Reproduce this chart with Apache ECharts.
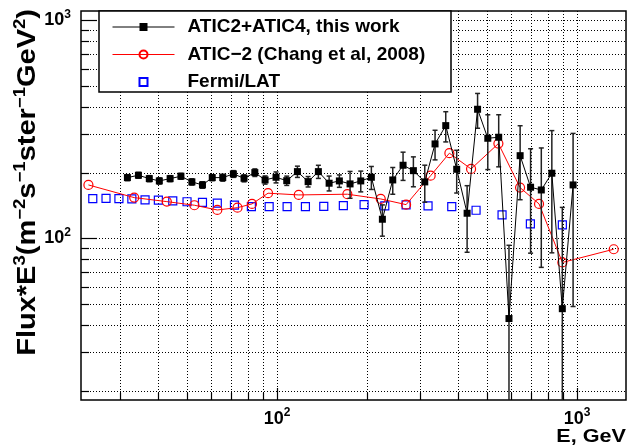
<!DOCTYPE html>
<html><head><meta charset="utf-8">
<script src="https://cdn.jsdelivr.net/npm/echarts@6/dist/echarts.min.js"></script>
<style>html,body{margin:0;padding:0;background:#fff}#c{width:633px;height:447px}</style>
</head><body><div id="c"></div>
<script>
// ---- data ----
const aticX = [31.7, 34.5, 37.5, 40.5, 44.0, 47.8, 52.0, 56.4, 60.8, 65.9, 71.5, 77.6, 84.3, 91.2, 99.2, 107.7, 116.9, 126.9, 137.3, 149.1, 161.3, 175.1, 190.1, 206.2, 224.4, 243, 263, 284.7, 310.7, 336.2, 365, 397, 430, 466, 504, 548, 593, 646, 700, 760, 824, 893, 970];
const aticY = [189.7, 194.5, 187.7, 183.2, 187.7, 192.5, 181.3, 175.6, 189.7, 189.7, 197.2, 188.4, 200, 185.1, 190.4, 183.7, 202.1, 181.8, 202.1, 178.8, 183.2, 177.5, 183.2, 190.4, 122.2, 185.1, 216.2, 204.2, 181.3, 270.8, 328.6, 207.2, 130.2, 390.6, 287.5, 290.6, 42.8, 239.2, 171.4, 166.5, 198.7, 47.5, 175.6];
const aticErr = [6, 6, 6, 6, 6, 6, 6, 6, 6, 7, 7, 7, 8, 8, 11, 9, 12, 10, 14, 14, 12, 25, 20, 23, 20, 26, 32, 32, 35, 42, 52, 46, 44, 71, 81, 78, 50, 89, 86, 93, 113, 91, 127];
const chX = [23.5, 33.4, 42.9, 53.0, 63.2, 73.8, 82.5, 93.3, 118.1, 171.5, 221.6, 269.2, 325, 375.3, 443.3, 546.7, 645.7, 746.9, 893.3, 1325];
const chY = [175.6, 153.6, 147.2, 141.7, 134.8, 138.1, 143.7, 160.9, 158, 159.2, 151.4, 142.6, 193.7, 245.5, 207.9, 271.8, 170.7, 143.7, 77.4, 89.0];
const fermiX = [24.3, 26.9, 29.7, 32.8, 36.3, 40.2, 44.9, 50.1, 56.4, 63.2, 72.1, 82.1, 94.1, 108, 124.3, 143.1, 166.3, 195, 228.6, 269.2, 318.6, 382.2, 460.6, 562.3, 698.9, 893.3];
const fermiY = [152, 152.5, 152, 151.5, 150, 149.5, 148.5, 147, 146, 145, 142, 139.6, 139.6, 139.6, 139.6, 140, 141, 142.6, 140.6, 142.2, 140.8, 139.6, 134.4, 127.9, 116.3, 115.2];
const seriesNames = ['ATIC2+ATIC4, this work', 'ATIC\u22122 (Chang et al, 2008)', 'Fermi/LAT'];
const xTicks = [30, 40, 50, 60, 70, 80, 90, 100, 200, 300, 400, 500, 600, 700, 800, 900, 1000];
const yTicks = [20, 30, 40, 50, 60, 70, 80, 90, 100, 200, 300, 400, 500, 600, 700, 800, 900, 1000];
const xMajor = [100, 1000];
const yMajor = [100, 1000];
const X_MIN = 22.2, X_MAX = 1456, Y_MIN = 18.1, Y_MAX = 1103;
const xTitle = 'E, GeV';

const FONT = '"Liberation Sans", Arial, Helvetica, sans-serif';
function isPow10(v) { const l = Math.log10(v); return Math.abs(l - Math.round(l)) < 1e-6; }
function powLabel(v) { return isPow10(v) ? '{a|10}{b|' + Math.round(Math.log10(v)) + '}' : ''; }
const labelRich = {
  a: { fontFamily: FONT, fontWeight: 'bold', fontSize: 18, color: '#000' },
  b: { fontFamily: FONT, fontWeight: 'bold', fontSize: 12, color: '#000', padding: [0, 0, 12, 0] }
};

function gridRender(isX) {
  return function (params, api) {
    const cs = params.coordSys;
    const v = api.value(isX ? 0 : 1);
    const major = (isX ? xMajor : yMajor).indexOf(v) >= 0;
    const p = api.coord([api.value(0), api.value(1)]);
    const children = [];
    if (isX) {
      const x = Math.round(p[0]) + 0.5;
      children.push({ type: 'line', shape: { x1: x, y1: cs.y, x2: x, y2: cs.y + cs.height }, style: { stroke: '#000', lineWidth: 1, lineDash: [1, 2] } });
      children.push({ type: 'line', shape: { x1: x, y1: cs.y + cs.height, x2: x, y2: cs.y + cs.height - (major ? 12 : 7) }, style: { stroke: '#000', lineWidth: 1.2 } });
    } else {
      const y = Math.round(p[1]) + 0.5;
      children.push({ type: 'line', shape: { x1: cs.x, y1: y, x2: cs.x + cs.width, y2: y }, style: { stroke: '#000', lineWidth: 1, lineDash: [1, 2] } });
      children.push({ type: 'line', shape: { x1: cs.x, y1: y, x2: cs.x + (major ? 16 : 8), y2: y }, style: { stroke: '#000', lineWidth: 1.2 } });
    }
    return { type: 'group', children: children };
  };
}

function errRender(params, api) {
  const cs = params.coordSys;
  const x = api.value(0), y = api.value(1), e = api.value(2);
  const hi = api.coord([x, y + e]);
  const loV = y - e;
  const lo = loV > Y_MIN ? api.coord([x, loV]) : [hi[0], cs.y + cs.height];
  const st = { stroke: '#222', lineWidth: 1.5 };
  const ch = [
    { type: 'line', shape: { x1: hi[0], y1: hi[1], x2: lo[0], y2: lo[1] }, style: st },
    { type: 'line', shape: { x1: hi[0] - 2.5, y1: hi[1], x2: hi[0] + 2.5, y2: hi[1] }, style: st }
  ];
  if (loV > Y_MIN) ch.push({ type: 'line', shape: { x1: lo[0] - 2.5, y1: lo[1], x2: lo[0] + 2.5, y2: lo[1] }, style: st });
  return { type: 'group', children: ch };
}

const chart = echarts.init(document.getElementById('c'), null, { renderer: 'canvas' });
chart.setOption({
  animation: false,
  backgroundColor: '#fff',
  grid: { left: 81, top: 11, right: 7, bottom: 47, show: true, borderColor: '#000', borderWidth: 1.5, backgroundColor: 'transparent', outerBoundsMode: 'none', containLabel: false },
  xAxis: {
    type: 'log', logBase: 10, min: X_MIN, max: X_MAX,
    axisLine: { show: false }, axisTick: { show: false }, splitLine: { show: false }, minorTick: { show: false },
    axisLabel: { show: true, margin: 7, formatter: powLabel, rich: labelRich, showMinLabel: false, showMaxLabel: false, hideOverlap: false }
  },
  yAxis: {
    type: 'log', logBase: 10, min: Y_MIN, max: Y_MAX,
    axisLine: { show: false }, axisTick: { show: false }, splitLine: { show: false }, minorTick: { show: false },
    axisLabel: { show: true, margin: 10, formatter: powLabel, rich: labelRich, showMinLabel: false, showMaxLabel: false, hideOverlap: false }
  },
  legend: {
    show: true, orient: 'vertical', left: 112, top: 17, itemWidth: 62, itemHeight: 10, itemGap: 7.5, padding: 0,
    selectedMode: false, z: 60, backgroundColor: 'transparent', borderWidth: 0,
    textStyle: { fontFamily: FONT, fontWeight: 'bold', fontSize: 19, color: '#000', lineHeight: 20, padding: [0, 0, 0, 8] },
    lineStyle: { width: 1 },
    data: [
      { name: seriesNames[0] },
      { name: seriesNames[1] },
      { name: seriesNames[2], lineStyle: { opacity: 0, width: 0 } }
    ]
  },
  graphic: [
    { type: 'rect', z: 50, silent: true, shape: { x: 99, y: 11, width: 352, height: 81 }, style: { fill: '#fff', stroke: '#000', lineWidth: 1.5 } },
    { type: 'text', z: 50, silent: true, x: 626, y: 446, scaleX: 1.2,
      style: { text: xTitle, align: 'right', verticalAlign: 'bottom', fontFamily: FONT, fontWeight: 'bold', fontSize: 18, fill: '#000' } },
    { type: 'text', z: 50, silent: true, x: 28, y: 9, rotation: Math.PI / 2, scaleX: 1.16,
      style: {
        text: '{a|Flux*E}{s|3}{a|(m}{s|\u22122}{a|s}{s|\u22121}{a|ster}{s|\u22121}{a|GeV}{s|2}{a|)}',
        align: 'right', verticalAlign: 'middle', fill: '#000', fontFamily: FONT, fontWeight: 'bold', fontSize: 25,
        rich: {
          a: { fontFamily: FONT, fontWeight: 'bold', fontSize: 25, fill: '#000' },
          s: { fontFamily: FONT, fontWeight: 'bold', fontSize: 16, fill: '#000', padding: [0, 0, 14, 0] }
        }
      } }
  ],
  series: [
    { type: 'custom', name: 'gx', silent: true, z: 1, clip: false, renderItem: gridRender(true), data: xTicks.map(v => [v, 100]) },
    { type: 'custom', name: 'gy', silent: true, z: 1, clip: false, renderItem: gridRender(false), data: yTicks.map(v => [100, v]) },
    { type: 'line', name: seriesNames[2], z: 3, symbol: 'rect', symbolSize: 8, showAllSymbol: true,
      lineStyle: { color: '#0000ff', opacity: 0, width: 1 },
      itemStyle: { color: 'rgba(0,0,0,0)', borderColor: '#0000ff', borderWidth: 1.2 },
      data: fermiX.map((x, i) => [x, fermiY[i]]) },
    { type: 'line', name: seriesNames[1], z: 4, symbol: 'circle', symbolSize: 9, showAllSymbol: true,
      lineStyle: { color: '#ff0000', width: 1 },
      itemStyle: { color: 'rgba(0,0,0,0)', borderColor: '#ff0000', borderWidth: 1.2 },
      data: chX.map((x, i) => [x, chY[i]]) },
    { type: 'custom', name: 'err', silent: true, z: 5, renderItem: errRender, encode: { x: 0, y: 1 },
      data: aticX.map((x, i) => [x, aticY[i], aticErr[i]]) },
    { type: 'line', name: seriesNames[0], z: 6, symbol: 'rect', symbolSize: 7, showAllSymbol: true,
      lineStyle: { color: '#000', width: 1 }, itemStyle: { color: '#000' },
      data: aticX.map((x, i) => [x, aticY[i]]) }
  ]
});
</script>
</body></html>
